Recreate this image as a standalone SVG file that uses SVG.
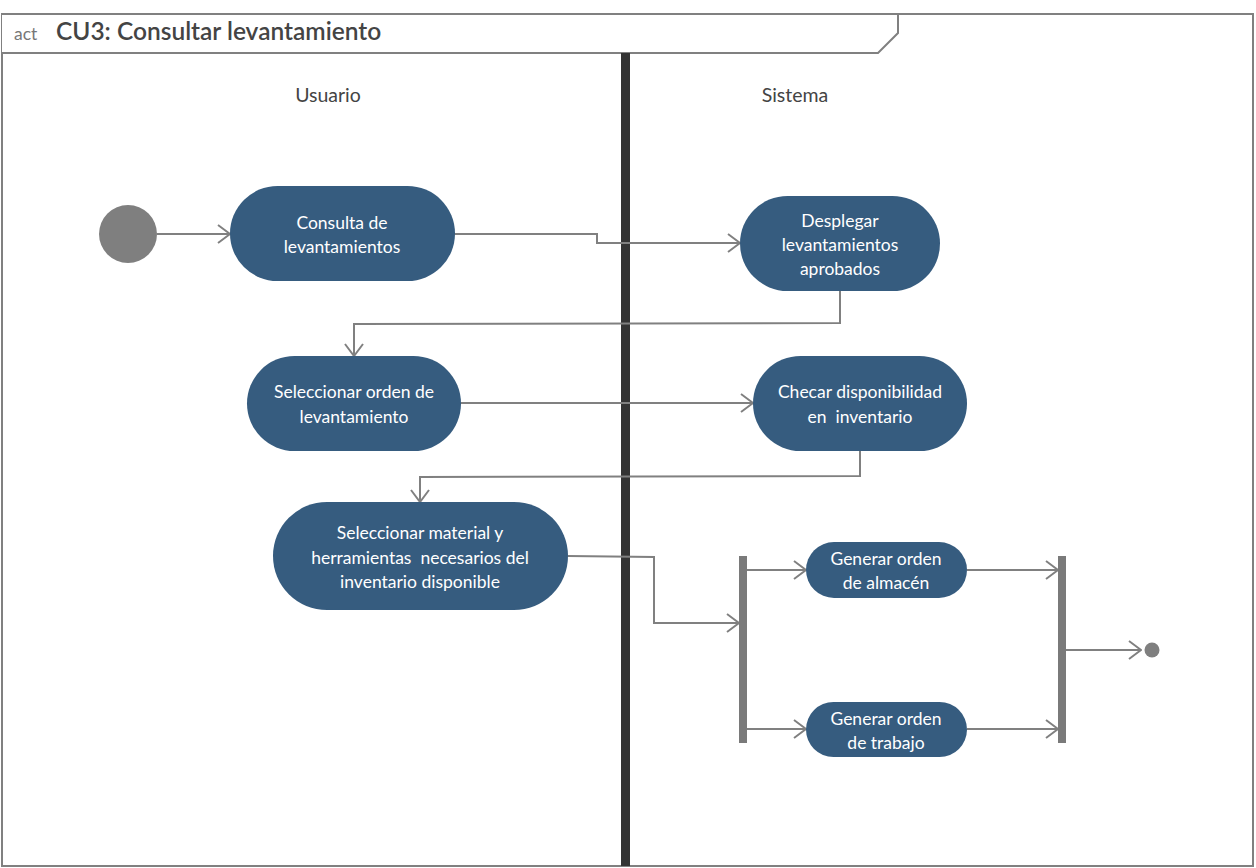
<svg xmlns="http://www.w3.org/2000/svg" width="1256" height="868" viewBox="0 0 1256 868">
<style>
.frame{fill:#fff;stroke:#808080;stroke-width:2}
.act{fill:#365c7f}
.t{font-family:Lato,"Open Sans","Liberation Sans",sans-serif;font-size:17.5px;fill:#fff;text-anchor:middle}
.lane{font-family:Lato,"Open Sans","Liberation Sans",sans-serif;font-size:19.5px;fill:#444;text-anchor:middle}
.c{fill:none;stroke:#808080;stroke-width:2}
.bar{fill:#7a7a7a}
</style>
<defs>
<marker id="arr" viewBox="0 0 14 20" refX="13" refY="10" markerWidth="14" markerHeight="20" markerUnits="userSpaceOnUse" orient="auto">
<path d="M1,1 L13,10 L1,19" fill="none" stroke="#808080" stroke-width="2"/>
</marker>
</defs>
<g id="frame">
<rect class="frame" x="2" y="14" width="1251" height="852"/>
<path d="M2,14 L898,14 L898,33 L878,53 L2,53" fill="#fff" stroke="#808080" stroke-width="2"/>
<text x="14" y="40" font-family="Lato,'Open Sans','Liberation Sans',sans-serif" font-size="17.5" fill="#777">act</text>
<text x="56" y="40" font-family="Lato,'Open Sans','Liberation Sans',sans-serif" font-size="24.5" font-weight="600" fill="#444">CU3: Consultar levantamiento</text>
<rect x="621" y="53" width="9" height="813" fill="#333"/>
<text class="lane" x="328" y="102">Usuario</text>
<text class="lane" x="795" y="102">Sistema</text>
</g>
<g id="connectors">
<path class="c" d="M157,234 L230,234" marker-end="url(#arr)"/>
<path class="c" d="M455,234 L597,234 L597,243 L740,243" marker-end="url(#arr)"/>
<path class="c" d="M840,291 L840,323 L354,324 L354,356" marker-end="url(#arr)"/>
<path class="c" d="M461,403 L753,403" marker-end="url(#arr)"/>
<path class="c" d="M860,451 L860,476 L420,477 L420,502" marker-end="url(#arr)"/>
<path class="c" d="M568,556 L654,557 L654,623 L739,623" marker-end="url(#arr)"/>
<path class="c" d="M747,570 L806,570" marker-end="url(#arr)"/>
<path class="c" d="M747,729 L806,729" marker-end="url(#arr)"/>
<path class="c" d="M967,570 L1058,570" marker-end="url(#arr)"/>
<path class="c" d="M967,729 L1058,729" marker-end="url(#arr)"/>
<path class="c" d="M1066,650 L1141,650" marker-end="url(#arr)"/>
</g>
<g id="initial"><circle cx="128" cy="234" r="29" fill="#7f7f7f"/></g>
<g id="n1"><rect class="act" x="230" y="186" width="225" height="95" rx="47.5"/>
<text class="t" x="342" y="229">Consulta de</text><text class="t" x="342" y="253">levantamientos</text></g>
<g id="n2"><rect class="act" x="740" y="196" width="200" height="95" rx="47.5"/>
<text class="t" x="840" y="227">Desplegar</text><text class="t" x="840" y="251">levantamientos</text><text class="t" x="840" y="275">aprobados</text></g>
<g id="n3"><rect class="act" x="247" y="356" width="214" height="95" rx="47.5"/>
<text class="t" x="354" y="398">Seleccionar orden de</text><text class="t" x="354" y="423">levantamiento</text></g>
<g id="n4"><rect class="act" x="753" y="356" width="214" height="95" rx="47.5"/>
<text class="t" x="860" y="398">Checar disponibilidad</text><text class="t" x="860" y="423" xml:space="preserve">en  inventario</text></g>
<g id="n5"><rect class="act" x="273" y="502" width="295" height="108" rx="54"/>
<text class="t" x="420" y="539">Seleccionar material y</text><text class="t" x="420" y="564" xml:space="preserve">herramientas  necesarios del</text><text class="t" x="420" y="588">inventario disponible</text></g>
<g id="fork"><rect class="bar" x="739" y="556" width="8" height="187"/></g>
<g id="n6"><rect class="act" x="806" y="542" width="161" height="56" rx="28"/>
<text class="t" x="886" y="565">Generar orden</text><text class="t" x="886" y="589">de almacén</text></g>
<g id="n7"><rect class="act" x="806" y="702" width="161" height="55" rx="27.5"/>
<text class="t" x="886" y="725">Generar orden</text><text class="t" x="886" y="749">de trabajo</text></g>
<g id="join"><rect class="bar" x="1058" y="556" width="8" height="187"/></g>
<g id="final"><circle cx="1152" cy="650" r="7.5" fill="#7f7f7f"/></g>
</svg>
